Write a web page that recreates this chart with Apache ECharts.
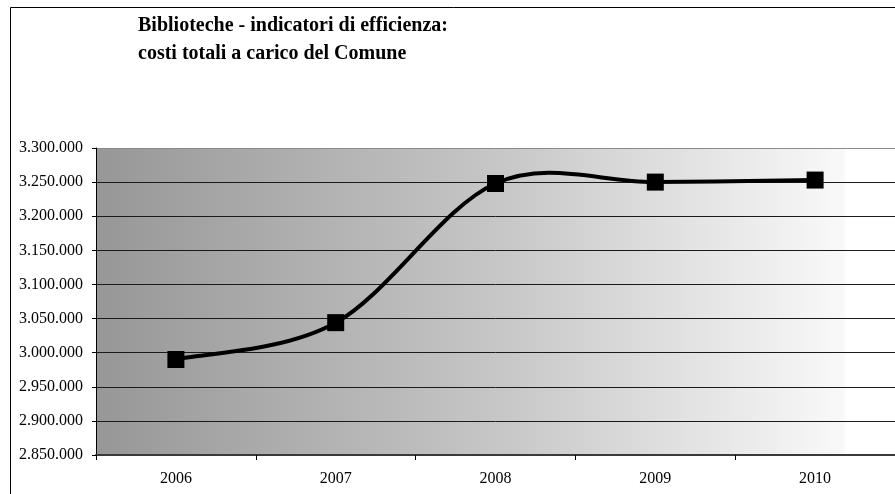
<!DOCTYPE html>
<html>
<head>
<meta charset="utf-8">
<script src="https://cdn.jsdelivr.net/npm/echarts@6/dist/echarts.min.js"></script>
<style>
  html, body { margin: 0; padding: 0; background: #fff; }
  #chart { width: 895px; height: 494px; }
</style>
</head>
<body>
<div id="chart"></div>
<script>
// Anni di riferimento
const years = ['2006', '2007', '2008', '2009', '2010'];
// Costi totali a carico del Comune (euro)
const totalCosts = [2990000, 3044000, 3248000, 3250000, 3253000];
// Scala dell'asse dei valori
const yMin = 2850000;
const yMax = 3300000;
const yStep = 50000;

const titleLines = ['Biblioteche - indicatori di efficienza:', 'costi totali a carico del Comune'];

const serif = '"Liberation Serif", "Times New Roman", serif';

function formatThousands(v) {
  return String(v).replace(/\B(?=(\d{3})+(?!\d))/g, '.');
}

// Gridline colours: the top one is the grey plot border
const gridCount = Math.round((yMax - yMin) / yStep) + 1;
const splitColors = [];
for (let i = 0; i < gridCount; i++) splitColors.push(i === gridCount - 1 ? '#8a8a8a' : '#1a1a1a');

// Smoothed curve through the data points (Catmull-Rom style cubic Béziers,
// tangent = (next - prev) / 6, end points reuse themselves as neighbours).
function renderCurve(params, api) {
  if (params.dataIndex !== 0) return null;
  const pts = totalCosts.map((v, i) => api.coord([i, v]));
  const n = pts.length;
  let d = 'M' + pts[0][0] + ' ' + pts[0][1];
  for (let i = 0; i < n - 1; i++) {
    const p0 = pts[Math.max(i - 1, 0)];
    const p1 = pts[i];
    const p2 = pts[i + 1];
    const p3 = pts[Math.min(i + 2, n - 1)];
    const c1x = p1[0] + (p2[0] - p0[0]) / 6;
    const c1y = p1[1] + (p2[1] - p0[1]) / 6;
    const c2x = p2[0] - (p3[0] - p1[0]) / 6;
    const c2y = p2[1] - (p3[1] - p1[1]) / 6;
    d += ' C' + c1x + ' ' + c1y + ' ' + c2x + ' ' + c2y + ' ' + p2[0] + ' ' + p2[1];
  }
  return {
    type: 'path',
    shape: { pathData: d },
    style: { fill: 'none', stroke: '#000', lineWidth: 4, lineJoin: 'round' }
  };
}

const chart = echarts.init(document.getElementById('chart'), null, { renderer: 'canvas' });

chart.setOption({
  backgroundColor: '#ffffff',
  animation: false,
  title: {
    text: titleLines.join('\n'),
    left: 138,
    top: 12,
    padding: 0,
    textStyle: {
      fontFamily: serif,
      fontWeight: 'bold',
      fontSize: 20,
      lineHeight: 28,
      color: '#000'
    }
  },
  graphic: [
    {
      type: 'rect',
      silent: true,
      z: 100,
      shape: { x: 10.5, y: 7.5, width: 1000, height: 600 },
      style: { fill: null, stroke: '#000', lineWidth: 1 }
    }
  ],
  grid: {
    left: 96,
    top: 148,
    width: 805,
    height: 307,
    show: true,
    borderWidth: 0,
    backgroundColor: {
      type: 'linear',
      x: 0, y: 0, x2: 1, y2: 0,
      colorStops: [
        { offset: 0, color: '#979797' },
        { offset: 0.5, color: '#c6c6c6' },
        { offset: 0.937, color: '#f9f9f9' },
        { offset: 0.938, color: '#ffffff' },
        { offset: 1, color: '#ffffff' }
      ]
    }
  },
  xAxis: {
    type: 'category',
    data: years,
    boundaryGap: true,
    axisLine: { show: true, lineStyle: { color: '#3a3a3a', width: 2 } },
    axisTick: { show: true, length: 5, interval: 0, lineStyle: { color: '#000', width: 1 } },
    axisLabel: {
      margin: 16,
      fontFamily: serif,
      fontSize: 16,
      color: '#000'
    },
    splitLine: { show: false }
  },
  yAxis: {
    type: 'value',
    min: yMin,
    max: yMax,
    interval: yStep,
    axisLine: { show: true, lineStyle: { color: '#000', width: 1 } },
    axisTick: { show: true, length: 4, lineStyle: { color: '#000', width: 1 } },
    axisLabel: {
      margin: 13,
      fontFamily: serif,
      fontSize: 16,
      color: '#000',
      formatter: formatThousands
    },
    splitLine: { show: true, lineStyle: { color: splitColors, width: 1 } }
  },
  series: [
    {
      type: 'custom',
      renderItem: renderCurve,
      data: totalCosts.map((v, i) => [i, v]),
      encode: { x: 0, y: 1 },
      z: 4,
      silent: true
    },
    {
      type: 'line',
      data: totalCosts,
      symbol: 'rect',
      symbolSize: 17,
      lineStyle: { width: 0, opacity: 0 },
      itemStyle: { color: '#000' },
      z: 5
    }
  ]
});
</script>
</body>
</html>
